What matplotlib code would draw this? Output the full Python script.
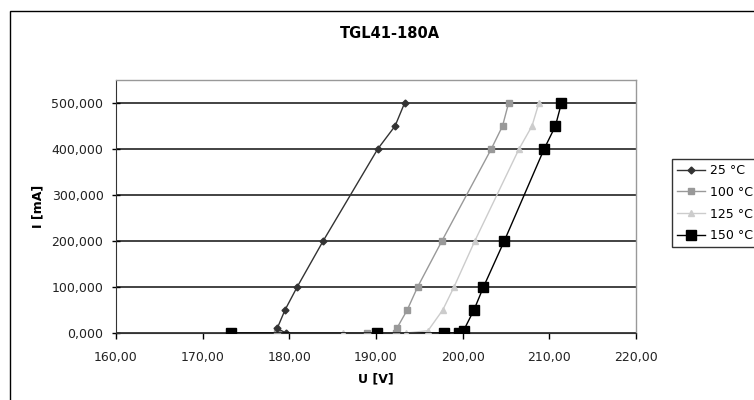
import matplotlib
matplotlib.use('Agg')
import matplotlib.pyplot as plt
from matplotlib.patches import Rectangle
from matplotlib.ticker import FuncFormatter

plt.rcParams['font.family'] = ['DejaVu Sans']

# U [V] / I [mA] per temperature
u_25 = [179.6, 178.6, 179.5, 180.9, 183.9, 190.2, 192.2, 193.3]
i_25 = [0, 10, 50, 100, 200, 400, 450, 500]

u_100 = [178.6, 189.0, 192.3, 192.4, 193.6, 194.8, 197.6, 203.3, 204.6, 205.3]
i_100 = [0, 0, 0, 10, 50, 100, 200, 400, 450, 500]

u_125 = [186.2, 193.5, 196.0, 197.7, 199.0, 201.4, 206.5, 208.0, 208.8]
i_125 = [0, 0, 5, 50, 100, 200, 400, 450, 500]

u_150 = [173.3, 190.1, 197.9, 199.6, 200.1, 201.3, 202.4, 204.8, 209.4, 210.7, 211.4]
i_150 = [0, 0, 0, 0, 5, 50, 100, 200, 400, 450, 500]

labels = ['25 °C', '100 °C', '125 °C', '150 °C']

fig = plt.figure(figsize=(7.54, 4.0), dpi=100)
ax = fig.add_axes([116/754, 1-333/400, (636-116)/754, (333-80)/400])

# outer chart frame (cut off at right/bottom like the original)
fig.patches.append(Rectangle((10/754, -0.1), 1.2, 1 - 11/400 + 0.1,
                             transform=fig.transFigure, fill=False,
                             edgecolor='black', linewidth=1.0))

ax.plot(u_25, i_25, color='#333333', lw=1.0, marker='D', ms=3.5,
        mfc='#333333', mec='#333333', label=labels[0], zorder=5)
ax.plot(u_100, i_100, color='#999999', lw=1.0, marker='s', ms=5,
        mfc='#999999', mec='#999999', label=labels[1], zorder=4)
ax.plot(u_125, i_125, color='#cccccc', lw=1.0, marker='^', ms=5,
        mfc='#cccccc', mec='#cccccc', label=labels[2], zorder=3)
ax.plot(u_150, i_150, color='black', lw=1.0, marker='s', ms=7,
        mfc='black', mec='black', label=labels[3], zorder=6)

ax.set_xlim(160, 220)
ax.set_ylim(0, 550)
ax.set_xticks([160, 170, 180, 190, 200, 210, 220])
ax.set_yticks([0, 100, 200, 300, 400, 500])
ax.xaxis.set_major_formatter(FuncFormatter(lambda v, p: f'{v:.2f}'.replace('.', ',')))
ax.yaxis.set_major_formatter(FuncFormatter(lambda v, p: f'{v:.3f}'.replace('.', ',')))
ax.yaxis.grid(True, color='#222222', lw=1.2)
ax.set_axisbelow(True)

ax.tick_params(axis='x', direction='out', length=4, width=1, labelsize=9,
               pad=9, labelcolor='#222222')
ax.tick_params(axis='y', direction='inout', length=6, width=1, labelsize=9,
               pad=6, labelcolor='#222222')

for s in ['top', 'right']:
    ax.spines[s].set_color('#999999')
    ax.spines[s].set_linewidth(1.0)
ax.spines['left'].set_color('#333333')
ax.spines['bottom'].set_color('#333333')

ax.set_xlabel('U [V]', fontsize=9, fontweight='bold', labelpad=6)
ax.set_ylabel('I [mA]', fontsize=9, fontweight='bold', labelpad=5)

fig.text(390/754, 1-33/400, 'TGL41-180A', ha='center', va='center',
         fontsize=10.5, fontweight='bold')

leg = fig.legend(loc='upper left', bbox_to_anchor=(672/754, 1-159/400),
                 frameon=True, fancybox=False, fontsize=9, handlelength=2.2,
                 labelspacing=0.7, borderpad=0.4, handletextpad=0.4,
                 borderaxespad=0)
leg.get_frame().set_edgecolor('black')
leg.get_frame().set_linewidth(1.0)

fig.savefig('out.png', dpi=100)
